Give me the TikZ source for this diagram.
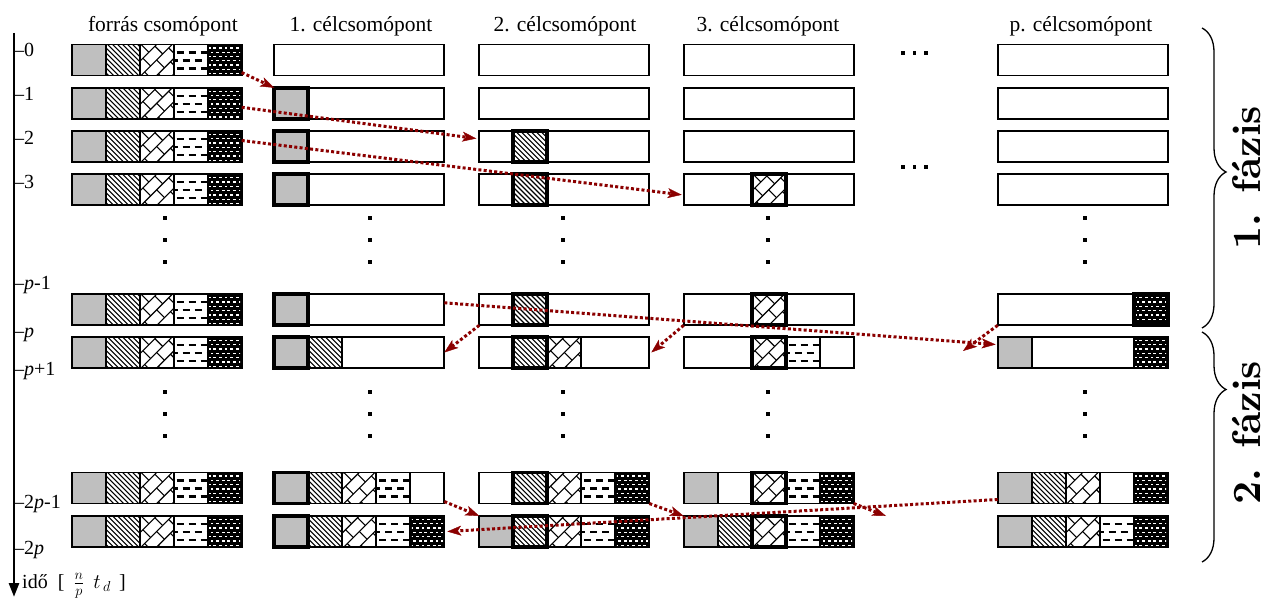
\documentclass[tikz,border=0pt]{standalone}
\usepackage{fontspec}
\setmainfont{Liberation Serif}
\newfontfamily\phasefont{lmroman10-bold}[Extension=.otf]
\usetikzlibrary{arrows.meta,calc,decorations.pathreplacing}

\definecolor{msgred}{RGB}{139,0,0}
\definecolor{cellgray}{RGB}{191,191,191}

% place a cell pattern (#3) at slot #2 (0..4) of row box #1
\newcommand\putcell[3]{\pic at ([xshift=#2*34pt]#1.north west) {#3};}
% heavy outline round slot #2 of row box #1
\newcommand\markcell[2]{\draw[thickcell] ([xshift=#2*34pt]#1.north west) rectangle ++(34,31);}

\tikzset{
  rowbox/.style={draw, line width=1.9pt, minimum width=170pt, minimum height=31pt,
    inner sep=0pt, outer sep=0pt, anchor=north west},
  cellline/.style={line width=1.9pt},
  thickcell/.style={line width=3.8pt},
  hatch/.style={line width=1.1pt},
  msg/.style={draw=msgred, line width=3pt, dash pattern=on 3pt off 2.3pt,
    -{Stealth[length=14pt,width=10pt,inset=3.5pt,line width=0.4pt]}},
  hdr/.style={font=\fontsize{21.5}{25}\selectfont, anchor=base, inner sep=0pt},
  tlabel/.style={font=\fontsize{20}{23}\selectfont, anchor=base west, inner sep=0pt},
  phase/.style={font=\phasefont\fontsize{40}{42}\selectfont, inner sep=0pt},
  brc/.style={line width=1.3pt, decorate},
  % gray block
  pics/cA/.style={code={
    \fill[cellgray] (0,0) rectangle (34,31);
    \draw[cellline] (0,0) rectangle (34,31);}},
  % diagonal hatching
  pics/cB/.style={code={
    \begin{scope}
      \clip (0,0) rectangle (34,31);
      \foreach \a in {-33,-28,...,34} \draw[hatch] (\a,0) -- ++(31,31);
    \end{scope}
    \draw[cellline] (0,0) rectangle (34,31);}},
  % diagonal bricks
  pics/cC/.style={code={
    \begin{scope}
      \clip (0,0) rectangle (34,31);
      \begin{scope}[shift={(17,15.5)}, rotate=45]
        \foreach \k in {-3,...,3} {
          \draw[hatch] (-30,{\k*11}) -- (30,{\k*11});
          \foreach \m in {-3,...,3}
            \draw[hatch] ({\m*17+mod(\k+10,2)*8.5},{\k*11}) -- ++(0,11);
        }
      \end{scope}
    \end{scope}
    \draw[cellline] (0,0) rectangle (34,31);}},
  % horizontal dashes
  pics/cD/.style={code={
    \begin{scope}
      \clip (0,0) rectangle (34,31);
      \foreach \yy/\o in {8/0, 16/6, 24/0}
        \foreach \j in {-1,...,3}
          \draw[line width=2.2pt] ({\o+\j*12+3},\yy) -- ++(7,0);
    \end{scope}
    \draw[cellline] (0,0) rectangle (34,31);}},
  % dark block with light specks
  pics/cE/.style={code={
    \fill (0,0) rectangle (34,31);
    \begin{scope}
      \clip (1.5,1.5) rectangle (32.5,29.5);
      \foreach \i in {0,...,6}
        \foreach \j in {0,...,6}
          \fill[white] ({\j*5.6+mod(\i,2)*2.8},{2.8+\i*4.3}) rectangle ++(2.8,1.3);
    \end{scope}
    \draw[cellline] (0,0) rectangle (34,31);}},
}

\begin{document}
\begin{tikzpicture}[x=1pt,y=-1pt]
\useasboundingbox (0,0) rectangle (1274,601);

% column headings
\node[hdr] (hs) at (163,31.5) {forrás csomópont};
\node[hdr] (h1) at (361,31.5) {1. célcsomópont};
\node[hdr] (h2) at (565,31.5) {2. célcsomópont};
\node[hdr] (h3) at (768,31.5) {3. célcsomópont};
\node[hdr] (hp) at (1081,31.5) {p. célcsomópont};

% time axis
\coordinate (axtop) at (14,33);
\coordinate (axbot) at (14,597);
\draw[line width=2.8pt, -{Triangle[length=14pt,width=10pt]}] (axtop) -- (axbot);
\node[tlabel] (t0) at (14,56.5) {–0};
\node[tlabel] (t1) at (14,101) {–1};
\node[tlabel] (t2) at (14,144.5) {–2};
\node[tlabel] (t3) at (14,188.5) {–3};
\node[tlabel] (tA) at (14,290) {–\textit{p}-1};
\node[tlabel] (tB) at (14,337.5) {–\textit{p}};
\node[tlabel] (tC) at (14,375.5) {–\textit{p}+1};
\node[tlabel] (tD) at (14,508.5) {–2\textit{p}-1};
\node[tlabel] (tE) at (14,554.5) {–2\textit{p}};
\node[tlabel] (unit) at (22,588) {idő\hspace{0.5em}[\hspace{0.45em}$\frac{n}{p}\;\, t_{\,d}$\hspace{0.4em}]};

% row boxes of every node
\foreach \col/\x in {s/71.7, a/274.3, b/479.3, c/683.7, q/997.7}
  \foreach \row/\y in {r0/44.5, r1/87.8, r2/131, r3/174.3, rA/294.3, rB/337, rC/472.5, rD/516}
    \node[rowbox] (\col-\row) at (\x,\y) {};

% source node holds every block
\foreach \row in {r0,r1,r2,r3,rA,rB,rC,rD} {
  \putcell{s-\row}{0}{cA}
  \putcell{s-\row}{1}{cB}
  \putcell{s-\row}{2}{cC}
  \putcell{s-\row}{3}{cD}
  \putcell{s-\row}{4}{cE}
}

% target 1
\foreach \row in {r1,r2,r3,rA,rB,rC,rD} {\putcell{a-\row}{0}{cA}}
\putcell{a-rB}{1}{cB}
\putcell{a-rC}{1}{cB} \putcell{a-rC}{2}{cC} \putcell{a-rC}{3}{cD}
\putcell{a-rD}{1}{cB} \putcell{a-rD}{2}{cC} \putcell{a-rD}{3}{cD} \putcell{a-rD}{4}{cE}

% target 2
\foreach \row in {r2,r3,rA,rB,rC,rD} {\putcell{b-\row}{1}{cB}}
\putcell{b-rB}{2}{cC}
\putcell{b-rC}{2}{cC} \putcell{b-rC}{3}{cD} \putcell{b-rC}{4}{cE}
\putcell{b-rD}{0}{cA} \putcell{b-rD}{2}{cC} \putcell{b-rD}{3}{cD} \putcell{b-rD}{4}{cE}

% target 3
\foreach \row in {r3,rA,rB,rC,rD} {\putcell{c-\row}{2}{cC}}
\putcell{c-rB}{3}{cD}
\putcell{c-rC}{0}{cA} \putcell{c-rC}{3}{cD} \putcell{c-rC}{4}{cE}
\putcell{c-rD}{0}{cA} \putcell{c-rD}{1}{cB} \putcell{c-rD}{3}{cD} \putcell{c-rD}{4}{cE}

% target p
\putcell{q-rA}{4}{cE}
\putcell{q-rB}{0}{cA} \putcell{q-rB}{4}{cE}
\putcell{q-rC}{0}{cA} \putcell{q-rC}{1}{cB} \putcell{q-rC}{2}{cC} \putcell{q-rC}{4}{cE}
\putcell{q-rD}{0}{cA} \putcell{q-rD}{1}{cB} \putcell{q-rD}{2}{cC} \putcell{q-rD}{3}{cD} \putcell{q-rD}{4}{cE}

% own block of each target
\foreach \row in {r1,r2,r3,rA,rB,rC,rD} {\markcell{a-\row}{0}}
\foreach \row in {r2,r3,rA,rB,rC,rD} {\markcell{b-\row}{1}}
\foreach \row in {r3,rA,rB,rC,rD} {\markcell{c-\row}{2}}
\markcell{q-rA}{4}

% elision dots
\foreach \x in {165,370,563,768,1085}
  \foreach \y in {218,240,262,392,414,436}
    \fill ({\x-1.9},{\y-1.9}) rectangle ++(3.8,3.8);
\foreach \x in {903,914.5,926}
  \foreach \y in {53,167}
    \fill ({\x-1.9},{\y-1.9}) rectangle ++(3.8,3.8);

% messages
\coordinate (f7) at (963,351);
\coordinate (f10) at (886,516);
\draw[msg] ([yshift=3pt]s-r0.south east) -- (a-r1.north west);
\draw[msg] ([yshift=-4pt]s-r1.east) -- ([xshift=-3pt,yshift=8pt]b-r2.west);
\draw[msg] ([yshift=6pt]s-r2.east) -- ([xshift=-2pt,yshift=-5pt]c-r3.west);
\draw[msg] ([yshift=7pt]a-rA.east) -- ([xshift=-2pt,yshift=8pt]q-rB.west);
\draw[msg] (b-rA.south west) -- (a-rB.east);
\draw[msg] (c-rA.south west) -- ([xshift=2pt]b-rB.east);
\draw[msg] (q-rA.south west) -- (f7);
\draw[msg] ([yshift=2pt]a-rC.south east) -- (b-rD.north west);
\draw[msg] (b-rC.south east) -- (c-rD.north west);
\draw[msg] (c-rC.south east) -- (f10);
\draw[msg] ([yshift=4pt]q-rC.south west) -- ([xshift=3pt]a-rD.east);

% phases
\coordinate (b1a) at (1202,28);
\coordinate (b1b) at (1202,328);
\coordinate (b2a) at (1202,332);
\coordinate (b2b) at (1202,562);
\draw[brc, decoration={brace, amplitude=24pt, aspect=0.48}] (b1a) -- (b1b);
\draw[brc, decoration={brace, amplitude=24pt, aspect=0.25}] (b2a) -- (b2b);
\node[phase, rotate=90] (ph1) at (1247,178) {1. fázis};
\node[phase, rotate=90] (ph2) at (1247,433) {2. fázis};
\end{tikzpicture}
\end{document}
